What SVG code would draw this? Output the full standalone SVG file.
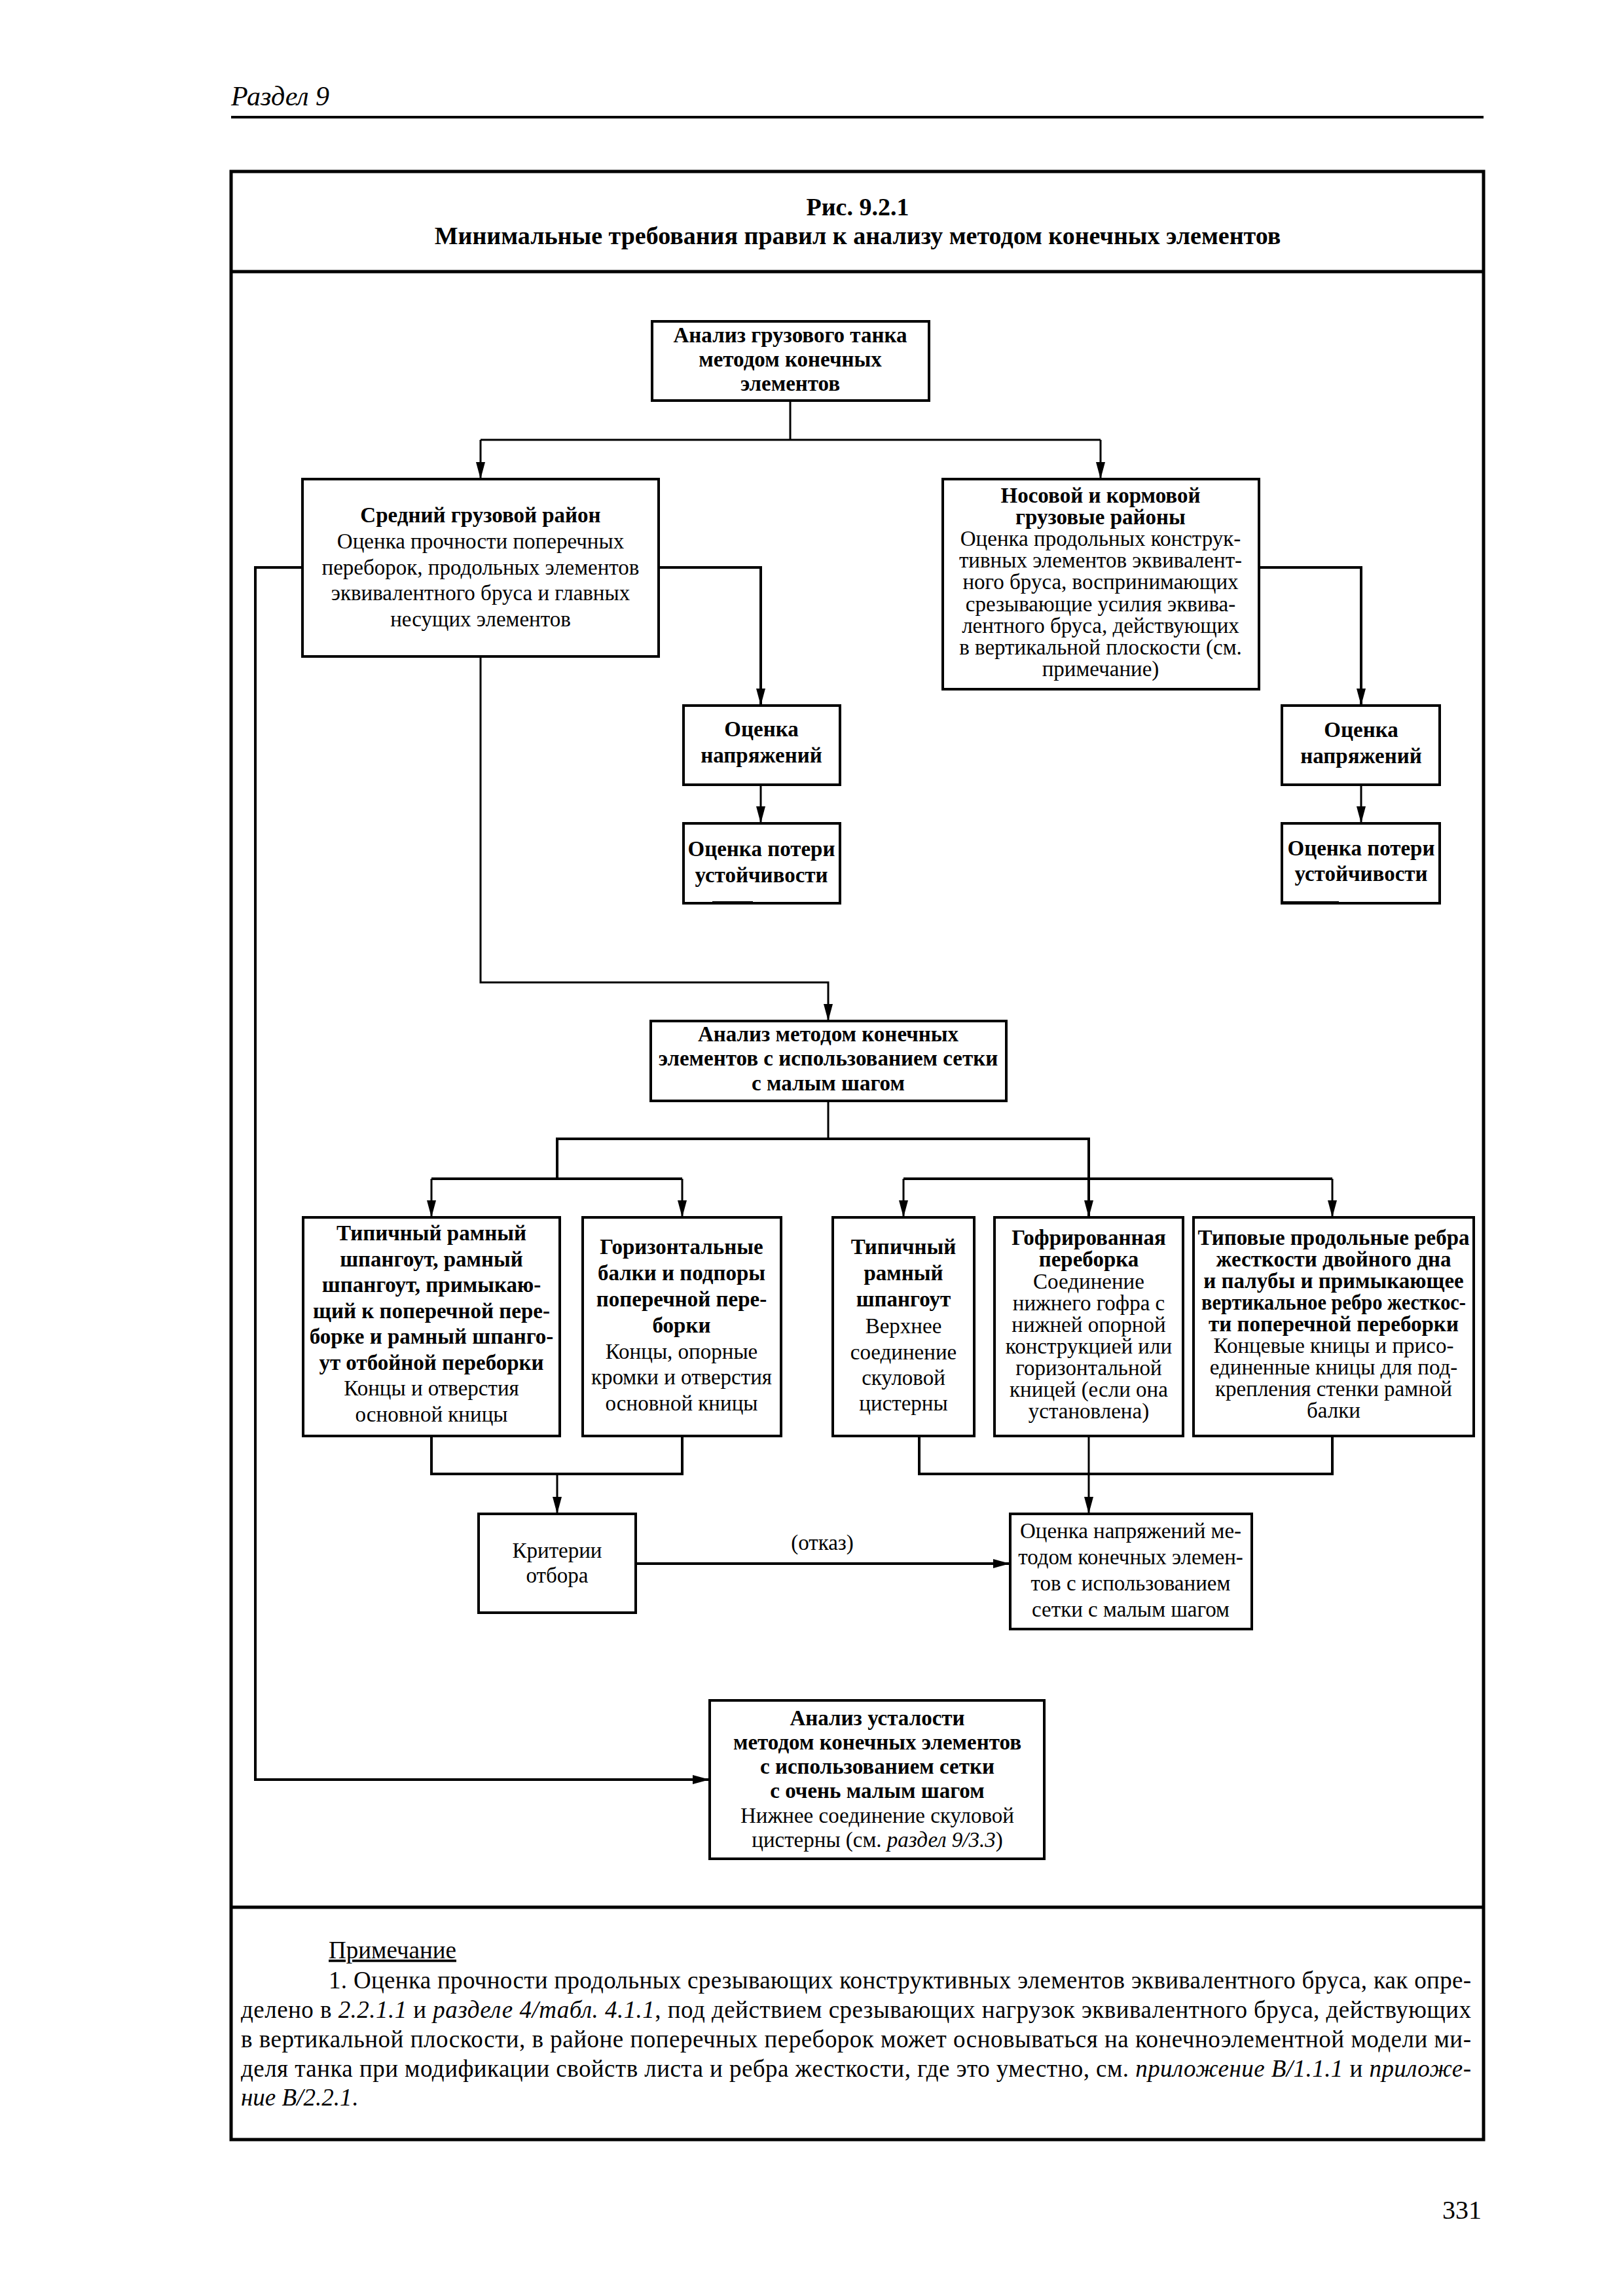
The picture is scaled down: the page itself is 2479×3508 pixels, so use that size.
<svg xmlns="http://www.w3.org/2000/svg" width="2479" height="3508" viewBox="0 0 2479 3508">
<style>
.box{fill:#fff;stroke:#000;stroke-width:4}
.ln{fill:none;stroke:#000;stroke-width:3}
.t{font-family:"Liberation Serif","Times New Roman",serif;font-size:33px;text-anchor:middle;fill:#000}
.b{font-weight:bold}
.i{font-style:italic}
.nt{font-family:"Liberation Serif","Times New Roman",serif;font-size:37px;fill:#000}
</style>
<defs>
<marker id="ah" markerUnits="userSpaceOnUse" markerWidth="26" markerHeight="14" refX="26" refY="7" orient="auto">
<path d="M0,0 L26,7 L0,14 Z" fill="#000"/>
</marker>
</defs>
<rect width="2479" height="3508" fill="#fff"/>
<!-- page header -->
<text x="353" y="161" style="font-family:'Liberation Serif',serif;font-style:italic;font-size:42px">Раздел 9</text>
<line x1="353" y1="179" x2="2266" y2="179" stroke="#000" stroke-width="4"/>
<!-- frame -->
<rect x="353" y="262" width="1913" height="3007" fill="none" stroke="#000" stroke-width="5"/>
<line x1="353" y1="415" x2="2266" y2="415" stroke="#000" stroke-width="5"/>
<line x1="353" y1="2914" x2="2266" y2="2914" stroke="#000" stroke-width="5"/>
<g id="title" class="t b" style="font-size:38px">
<text x="1310" y="329">Рис. 9.2.1</text>
<text x="1310" y="373">Минимальные требования правил к анализу методом конечных элементов</text>
</g>

<g id="connectors">
<polyline class="ln" points="1207,612 1207,672"/>
<polyline class="ln" points="734,672 1681,672"/>
<polyline class="ln" points="734,672 734,732" marker-end="url(#ah)"/>
<polyline class="ln" points="1681,672 1681,732" marker-end="url(#ah)"/>
<polyline class="ln" style="stroke-width:4" points="1006,867 1162,867 1162,1078" marker-end="url(#ah)"/>
<polyline class="ln" points="1162,1199 1162,1258" marker-end="url(#ah)"/>
<polyline class="ln" style="stroke-width:4" points="1923,867 2079,867 2079,1078" marker-end="url(#ah)"/>
<polyline class="ln" points="2079,1199 2079,1258" marker-end="url(#ah)"/>
<polyline class="ln" style="stroke-width:4" points="462,867 390,867 390,2719 1084,2719" marker-end="url(#ah)"/>
<polyline class="ln" points="734,1003 734,1501 1265,1501 1265,1560" marker-end="url(#ah)"/>
<polyline class="ln" points="1265,1682 1265,1740"/>
<polyline class="ln" style="stroke-width:4" points="851,1801 851,1740 1663,1740 1663,1860" marker-end="url(#ah)"/>
<polyline class="ln" style="stroke-width:4" points="659,1801 1042,1801"/>
<polyline class="ln" points="659,1801 659,1860" marker-end="url(#ah)"/>
<polyline class="ln" points="1042,1801 1042,1860" marker-end="url(#ah)"/>
<polyline class="ln" style="stroke-width:4" points="1380,1801 2035,1801"/>
<polyline class="ln" points="1380,1801 1380,1860" marker-end="url(#ah)"/>
<polyline class="ln" points="2035,1801 2035,1860" marker-end="url(#ah)"/>
<polyline class="ln" style="stroke-width:4" points="659,2194 659,2252 1042,2252 1042,2194"/>
<polyline class="ln" points="851,2252 851,2313" marker-end="url(#ah)"/>
<polyline class="ln" style="stroke-width:4" points="1404,2194 1404,2252 2035,2252 2035,2194"/>
<polyline class="ln" points="1663,2194 1663,2313" marker-end="url(#ah)"/>
<polyline class="ln" style="stroke-width:4" points="971,2389 1543,2389" marker-end="url(#ah)"/>
<text class="t" x="1256" y="2368">(отказ)</text>
</g>

<g id="n_top">
<rect class="box" x="996" y="491" width="423" height="121"/>
<text class="t b" x="1207" y="523">Анализ грузового танка</text>
<text class="t b" x="1207" y="560">методом конечных</text>
<text class="t b" x="1207" y="597">элементов</text>
</g>

<g id="n_mid">
<rect class="box" x="462" y="732" width="544" height="271"/>
<text class="t b" x="734" y="798">Средний грузовой район</text>
<text class="t" x="734" y="838">Оценка прочности поперечных</text>
<text class="t" x="734" y="878">переборок, продольных элементов</text>
<text class="t" x="734" y="917">эквивалентного бруса и главных</text>
<text class="t" x="734" y="957">несущих элементов</text>
</g>

<g id="n_fore">
<rect class="box" x="1440" y="732" width="483" height="321"/>
<text class="t b" x="1681" y="768">Носовой и кормовой</text>
<text class="t b" x="1681" y="801">грузовые районы</text>
<text class="t" x="1681" y="834">Оценка продольных конструк-</text>
<text class="t" x="1681" y="867">тивных элементов эквивалент-</text>
<text class="t" x="1681" y="900">ного бруса, воспринимающих</text>
<text class="t" x="1681" y="934">срезывающие усилия эквива-</text>
<text class="t" x="1681" y="967">лентного бруса, действующих</text>
<text class="t" x="1681" y="1000">в вертикальной плоскости (см.</text>
<text class="t" x="1681" y="1033">примечание)</text>
</g>

<g id="n_stress_l">
<rect class="box" x="1044" y="1078" width="239" height="121"/>
<text class="t b" x="1163" y="1125">Оценка</text>
<text class="t b" x="1163" y="1165">напряжений</text>
</g>
<g id="n_buck_l">
<rect class="box" x="1044" y="1258" width="239" height="122"/>
<rect x="1088" y="1377" width="62" height="5" fill="#000"/>
<text class="t b" x="1163" y="1308">Оценка потери</text>
<text class="t b" x="1163" y="1348">устойчивости</text>
</g>
<g id="n_stress_r">
<rect class="box" x="1958" y="1078" width="241" height="121"/>
<text class="t b" x="2079" y="1126">Оценка</text>
<text class="t b" x="2079" y="1166">напряжений</text>
</g>
<g id="n_buck_r">
<rect class="box" x="1958" y="1258" width="241" height="122"/>
<rect x="1960" y="1377" width="85" height="5" fill="#000"/>
<text class="t b" x="2079" y="1307">Оценка потери</text>
<text class="t b" x="2079" y="1346">устойчивости</text>
</g>

<g id="n_fine">
<rect class="box" x="994" y="1560" width="543" height="122"/>
<text class="t b" x="1265" y="1591">Анализ методом конечных</text>
<text class="t b" x="1265" y="1628">элементов с использованием сетки</text>
<text class="t b" x="1265" y="1666">с малым шагом</text>
</g>

<g id="n_a">
<rect class="box" x="463" y="1860" width="392" height="334"/>
<text class="t b" x="659" y="1895">Типичный рамный</text>
<text class="t b" x="659" y="1935">шпангоут, рамный</text>
<text class="t b" x="659" y="1974">шпангоут, примыкаю-</text>
<text class="t b" x="659" y="2014">щий к поперечной пере-</text>
<text class="t b" x="659" y="2053">борке и рамный шпанго-</text>
<text class="t b" x="659" y="2093">ут отбойной переборки</text>
<text class="t" x="659" y="2132">Концы и отверстия</text>
<text class="t" x="659" y="2172">основной кницы</text>
</g>

<g id="n_b">
<rect class="box" x="890" y="1860" width="303" height="334"/>
<text class="t b" x="1041" y="1916">Горизонтальные</text>
<text class="t b" x="1041" y="1956">балки и подпоры</text>
<text class="t b" x="1041" y="1996">поперечной пере-</text>
<text class="t b" x="1041" y="2036">борки</text>
<text class="t" x="1041" y="2076">Концы, опорные</text>
<text class="t" x="1041" y="2115">кромки и отверстия</text>
<text class="t" x="1041" y="2155">основной кницы</text>
</g>

<g id="n_c">
<rect class="box" x="1272" y="1860" width="216" height="334"/>
<text class="t b" x="1380" y="1916">Типичный</text>
<text class="t b" x="1380" y="1956">рамный</text>
<text class="t b" x="1380" y="1996">шпангоут</text>
<text class="t" x="1380" y="2037">Верхнее</text>
<text class="t" x="1380" y="2077">соединение</text>
<text class="t" x="1380" y="2116">скуловой</text>
<text class="t" x="1380" y="2155">цистерны</text>
</g>

<g id="n_d">
<rect class="box" x="1519" y="1860" width="288" height="334"/>
<text class="t b" x="1663" y="1902">Гофрированная</text>
<text class="t b" x="1663" y="1935">переборка</text>
<text class="t" x="1663" y="1969">Соединение</text>
<text class="t" x="1663" y="2002">нижнего гофра с</text>
<text class="t" x="1663" y="2035">нижней опорной</text>
<text class="t" x="1663" y="2068">конструкцией или</text>
<text class="t" x="1663" y="2101">горизонтальной</text>
<text class="t" x="1663" y="2134">кницей (если она</text>
<text class="t" x="1663" y="2167">установлена)</text>
</g>

<g id="n_e">
<rect class="box" x="1823" y="1860" width="428" height="334"/>
<text class="t b" x="2037" y="1902">Типовые продольные ребра</text>
<text class="t b" x="2037" y="1935">жесткости двойного дна</text>
<text class="t b" x="2037" y="1968">и палубы и примыкающее</text>
<text class="t b" x="2037" y="2001" textLength="404" lengthAdjust="spacingAndGlyphs">вертикальное ребро жесткос-</text>
<text class="t b" x="2037" y="2034">ти поперечной переборки</text>
<text class="t" x="2037" y="2067">Концевые кницы и присо-</text>
<text class="t" x="2037" y="2100">единенные кницы для под-</text>
<text class="t" x="2037" y="2133">крепления стенки рамной</text>
<text class="t" x="2037" y="2166">балки</text>
</g>

<g id="n_crit">
<rect class="box" x="731" y="2313" width="240" height="151"/>
<text class="t" x="851" y="2380">Критерии</text>
<text class="t" x="851" y="2418">отбора</text>
</g>

<g id="n_fine_stress">
<rect class="box" x="1543" y="2313" width="369" height="176"/>
<text class="t" x="1727" y="2350">Оценка напряжений ме-</text>
<text class="t" x="1727" y="2390">тодом конечных элемен-</text>
<text class="t" x="1727" y="2430">тов с использованием</text>
<text class="t" x="1727" y="2470">сетки с малым шагом</text>
</g>

<g id="n_fatigue">
<rect class="box" x="1084" y="2598" width="511" height="242"/>
<text class="t b" x="1340" y="2636">Анализ усталости</text>
<text class="t b" x="1340" y="2673">методом конечных элементов</text>
<text class="t b" x="1340" y="2710">с использованием сетки</text>
<text class="t b" x="1340" y="2747">с очень малым шагом</text>
<text class="t" x="1340" y="2785">Нижнее соединение скуловой</text>
<text class="t" x="1340" y="2822">цистерны (см. <tspan class="i">раздел 9/3.3</tspan>)</text>
</g>

<g id="note" class="nt">
<text x="502" y="2992" text-decoration="underline">Примечание</text>
<text x="502" y="3038" textLength="1745" lengthAdjust="spacing">1. Оценка прочности продольных срезывающих конструктивных элементов эквивалентного бруса, как опре-</text>
<text x="368" y="3083" textLength="1879" lengthAdjust="spacing">делено в <tspan class="i">2.2.1.1</tspan> и <tspan class="i">разделе 4/табл. 4.1.1</tspan>, под действием срезывающих нагрузок эквивалентного бруса, действующих</text>
<text x="368" y="3128" textLength="1879" lengthAdjust="spacing">в вертикальной плоскости, в районе поперечных переборок может основываться на конечноэлементной модели ми-</text>
<text x="368" y="3173" textLength="1879" lengthAdjust="spacing">деля танка при модификации свойств листа и ребра жесткости, где это уместно, см. <tspan class="i">приложение В/1.1.1</tspan> и <tspan class="i">приложе-</tspan></text>
<text x="368" y="3217"><tspan class="i">ние В/2.2.1</tspan>.</text>
</g>

<text x="2263" y="3390" style="font-family:'Liberation Serif',serif;font-size:40px;text-anchor:end">331</text>
</svg>
